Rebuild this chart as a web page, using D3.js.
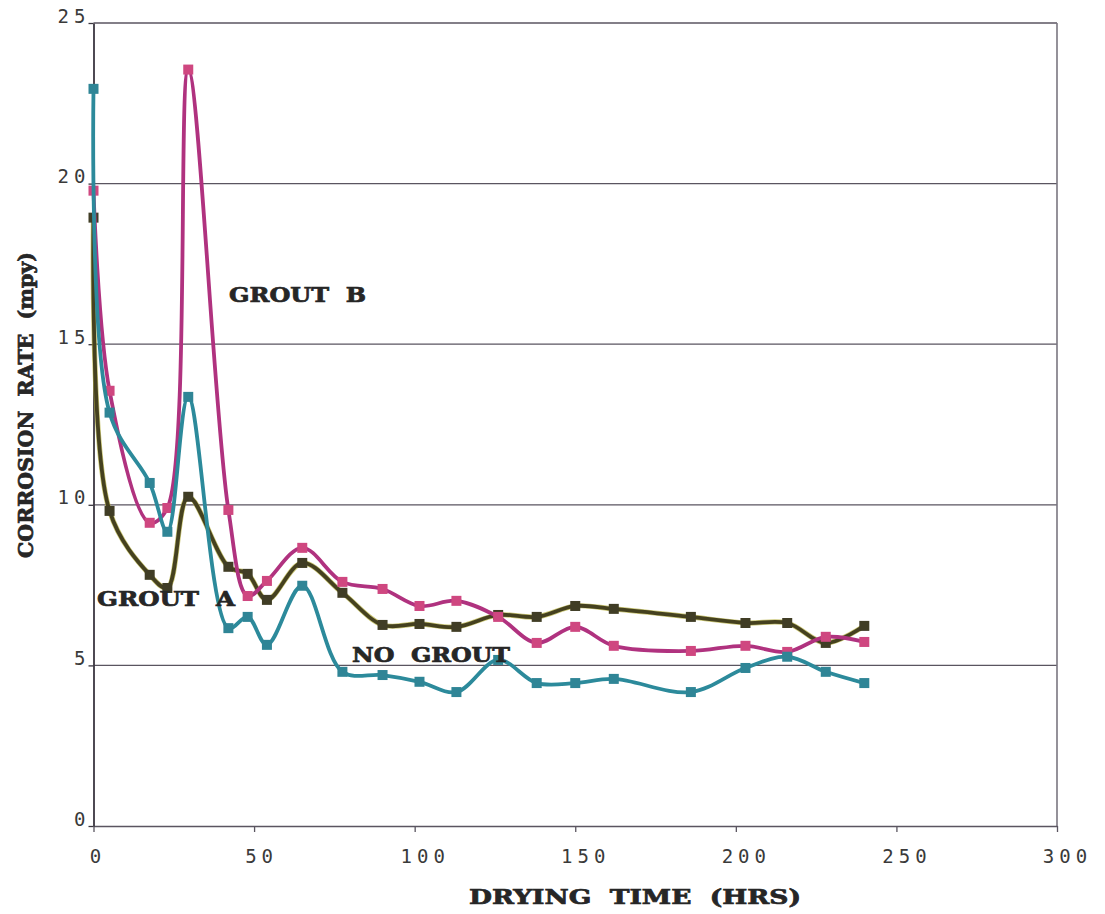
<!DOCTYPE html>
<html>
<head>
<meta charset="utf-8">
<script src="https://cdn.jsdelivr.net/npm/d3@7"></script>
<style>
  html, body { margin: 0; padding: 0; background: #ffffff; }
  svg { display: block; }
</style>
</head>
<body>
<svg id="chart" width="1105" height="914"></svg>
<script>
// Drying time (hours) at which each corrosion rate reading was taken
const dryingHours = [0, 5, 17.5, 23, 29.5, 42, 48, 54, 65, 77.5, 90, 101.5, 113, 126, 138, 150, 162, 186, 203, 216, 228, 240];

// Corrosion rate (mpy) for each specimen condition
const noGrout = [22.95, 12.87, 10.68, 9.16, 13.36, 6.16, 6.51, 5.64, 7.48, 4.80, 4.70, 4.49, 4.17, 5.17, 4.45, 4.45, 4.58, 4.17, 4.92, 5.27, 4.80, 4.45];
const groutB  = [19.78, 13.55, 9.44, 9.90, 23.55, 9.84, 7.16, 7.63, 8.66, 7.60, 7.38, 6.85, 7.01, 6.51, 5.70, 6.20, 5.61, 5.45, 5.61, 5.42, 5.89, 5.73];
const groutA  = [18.94, 9.81, 7.82, 7.41, 10.25, 8.07, 7.85, 7.04, 8.19, 7.26, 6.26, 6.29, 6.20, 6.57, 6.51, 6.85, 6.76, 6.51, 6.32, 6.32, 5.70, 6.23];

const xTicks = [0, 50, 100, 150, 200, 250, 300];
const yTicks = [0, 5, 10, 15, 20, 25];

const svg = d3.select("#chart");
const plot = { left: 93.5, right: 1057, top: 23, bottom: 826 };

const x = d3.scaleLinear().domain([0, 300]).range([plot.left, plot.right]);
const y = d3.scaleLinear().domain([0, 25]).range([plot.bottom, plot.top]);

const titleFont = "'DejaVu Serif', 'Liberation Serif', serif";
const tickFont = "'DejaVu Sans Mono', 'Liberation Mono', monospace";

// Horizontal gridlines
svg.append("g")
  .selectAll("line")
  .data(yTicks.filter(d => d > 0))
  .join("line")
  .attr("x1", plot.left).attr("x2", plot.right)
  .attr("y1", d => y(d)).attr("y2", d => y(d))
  .attr("stroke", "#5a5560").attr("stroke-width", 1.3);

// Right edge of the plot frame
svg.append("line")
  .attr("x1", plot.right).attr("x2", plot.right)
  .attr("y1", plot.top).attr("y2", plot.bottom)
  .attr("stroke", "#7a7680").attr("stroke-width", 1.6);

// X axis
const xAxis = svg.append("g")
  .attr("transform", `translate(0,${plot.bottom})`)
  .call(d3.axisBottom(x).tickValues(xTicks).tickSize(6).tickPadding(18).tickSizeOuter(0));
xAxis.select(".domain").attr("stroke", "#5a5560").attr("stroke-width", 1.6);
xAxis.selectAll(".tick line").attr("stroke", "#5a5560").attr("stroke-width", 1.3);
xAxis.selectAll(".tick text")
  .attr("font-family", tickFont).attr("font-size", 19).attr("fill", "#3a3a3a")
  .style("letter-spacing", "5px")
  .attr("dx", d => (String(d).length * 3 + 1) + "px");

// Y axis
const yAxis = svg.append("g")
  .attr("transform", `translate(${plot.left},0)`)
  .call(d3.axisLeft(y).tickValues(yTicks).tickSize(5).tickPadding(3).tickSizeOuter(0));
yAxis.select(".domain").attr("stroke", "#3a3640").attr("stroke-width", 1.8);
yAxis.selectAll(".tick line").attr("stroke", "#3a3640").attr("stroke-width", 1.3);
yAxis.selectAll(".tick text")
  .attr("font-family", tickFont).attr("font-size", 19).attr("fill", "#3a3a3a")
  .style("letter-spacing", "5px")
  .attr("dx", "5px")
  .attr("dy", "-0.05em");

// Data series
const seriesList = [
  { name: "GROUT A", values: groutA, line: "#45411f", halo: "#b3ae3a", marker: "#403d25" },
  { name: "GROUT B", values: groutB, line: "#b0327f", halo: null, marker: "#cf4780" },
  { name: "NO GROUT", values: noGrout, line: "#2c8a9b", halo: null, marker: "#2f8596" }
];

const lineGen = d3.line()
  .x(d => x(d[0]))
  .y(d => y(d[1]))
  .curve(d3.curveCatmullRom.alpha(0.5));

const markerSize = 10;

seriesList.forEach(s => {
  const pts = dryingHours.map((t, i) => [t, s.values[i]]);
  const g = svg.append("g").attr("class", "series");
  if (s.halo) {
    g.append("path")
      .attr("d", lineGen(pts))
      .attr("fill", "none")
      .attr("stroke", s.halo)
      .attr("stroke-width", 5.2)
      .attr("stroke-linejoin", "round")
      .attr("opacity", 0.7);
  }
  g.append("path")
    .attr("d", lineGen(pts))
    .attr("fill", "none")
    .attr("stroke", s.line)
    .attr("stroke-width", 3.8)
    .attr("stroke-linejoin", "round");
  g.selectAll("rect")
    .data(pts)
    .join("rect")
    .attr("x", d => x(d[0]) - markerSize / 2)
    .attr("y", d => y(d[1]) - markerSize / 2)
    .attr("width", markerSize)
    .attr("height", markerSize)
    .attr("fill", s.marker);
});

// Text labels in a heavy slab face, stretched to their set widths
function slabText(str, xPos, yPos, len, rotate) {
  const t = svg.append("text")
    .attr("font-family", titleFont)
    .attr("font-weight", "bold")
    .attr("font-size", 20)
    .attr("fill", "#262626")
    .attr("stroke", "#262626")
    .attr("stroke-width", 0.7)
    .attr("textLength", len)
    .attr("lengthAdjust", "spacingAndGlyphs")
    .style("white-space", "pre")
    .text(str);
  if (rotate) {
    t.attr("text-anchor", "middle")
     .attr("transform", `translate(${xPos},${yPos}) rotate(-90)`);
  } else {
    t.attr("x", xPos).attr("y", yPos);
  }
  return t;
}

slabText("GROUT  B", 229, 302, 137);
slabText("GROUT  A", 97, 606, 138);
slabText("NO  GROUT", 352, 662, 158);
slabText("DRYING  TIME  (HRS)", 469, 904, 332);
slabText("CORROSION  RATE  (mpy)", 33, 405, 306, true);
</script>
</body>
</html>
